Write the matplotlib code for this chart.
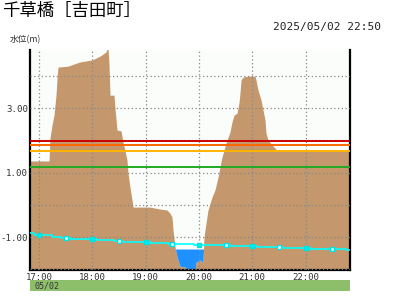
import matplotlib
matplotlib.use("Agg")
import matplotlib.pyplot as plt
import numpy as np

# x values are minutes after 16:50
prof_t = [0, 21.4, 22.5, 24.75, 27, 29.25, 30.4, 31.5, 42.75, 56.25, 69.75, 78.75, 85.5, 87.75,
          88.9, 90, 94.5, 95.6, 97.9, 102.4, 104.6, 106.9, 109.1, 110.25, 112.5, 114.75, 115.9,
          135, 146.25, 154.1, 157.5, 159.75, 160.9, 163.1, 165.4, 168.75, 174.4, 180, 185.6,
          186.75, 191.25, 194.6, 195.75, 198, 200.25, 204.75, 208.1, 211.5, 216, 220.5, 225,
          227.25, 229.5, 232.9, 235.1, 236.25, 237.4, 239.6, 245.25, 253.1, 254.25, 256.5,
          259.9, 262.1, 264.4, 265.5, 267.75, 272.25, 275.6, 277.9, 360]
prof_v = [1.36, 1.36, 2.07, 2.47, 2.78, 3.40, 3.93, 4.27, 4.30, 4.43, 4.49, 4.61, 4.74, 4.90,
          4.33, 3.40, 3.40, 3.00, 2.32, 2.29, 1.95, 1.67, 1.39, 0.98, 0.55, 0.15, -0.07,
          -0.07, -0.13, -0.16, -0.26, -0.38, -0.78, -1.31, -1.62, -1.90, -1.93, -2.05, -2.05,
          -1.78, -1.71, -1.78, -1.00, -0.57, -0.16, 0.24, 0.46, 0.86, 1.48, 1.91, 2.26,
          2.57, 2.78, 2.84, 3.16, 3.47, 3.87, 3.96, 3.99, 3.99, 3.87, 3.56,
          3.25, 2.94, 2.63, 2.22, 2.01, 1.85, 1.76, 1.67, 1.67]

water_level = -1.37

wl_t = list(range(0, 361, 10))
wl_v = [-0.88, -0.92, -0.95, -0.99, -1.02, -1.05, -1.06, -1.07, -1.09, -1.10, -1.12, -1.14,
        -1.15, -1.16, -1.17, -1.18, -1.20, -1.22, -1.22, -1.23, -1.25, -1.26, -1.26, -1.27,
        -1.29, -1.29, -1.30, -1.31, -1.32, -1.33, -1.34, -1.35, -1.36, -1.37, -1.38, -1.38, -1.39]

levels = [1.97, 1.87, 1.66, 1.16]
level_colors = ['#CC0000', '#FF6600', '#FFB400', '#22AA22']

hour_labels = ['17:00', '18:00', '19:00', '20:00', '21:00', '22:00']
hour_t = [10, 70, 130, 190, 250, 310]

jp = ['Noto Sans CJK JP', 'DejaVu Sans']
mono = 'DejaVu Sans Mono'

fig = plt.figure(figsize=(4, 3), dpi=100)
ax = fig.add_axes([0.075, 0.1, 0.8, 0.7333])
ax.set_facecolor('#FBFDFA')

ymin, ymax = -2.02, 4.8
pt = np.array(prof_t)
pv = np.array(prof_v)
ax.fill_between(pt, pv, ymin - 1, color='#C4986C', lw=0, zorder=1)
valley = (pt >= 160) & (pt <= 200)
ax.fill_between(pt[valley], pv[valley], water_level, where=pv[valley] < water_level,
                interpolate=True, color='#1E90FF', lw=0, zorder=2)

for y in range(-2, 5):
    ax.axhline(y, color='#888888', ls=(0, (1, 2)), lw=0.9, zorder=3)
for t in hour_t:
    ax.axvline(t, color='#888888', ls=(0, (1, 2)), lw=0.9, zorder=3)

for lv, c in zip(levels, level_colors):
    ax.axhline(lv, color=c, lw=1.4, zorder=4)

ax.plot(wl_t, wl_v, color='#00FFFF', lw=1.2, drawstyle='steps-mid', zorder=5)
for i, t in enumerate(wl_t):
    if (t - 10) % 60 == 0:
        ax.plot(t, wl_v[i], 's', ms=3, color='#00F0F0', mec='#00E0E0', zorder=6)
    elif (t - 40) % 60 == 0:
        ax.plot(t, wl_v[i], 's', ms=3, mfc='#D8FFFF', mec='#00E0E0', mew=0.9, zorder=6)

ax.set_xlim(0, 360)
ax.set_ylim(ymin, ymax)
ax.set_xticks(hour_t)
ax.set_xticklabels(hour_labels, fontfamily=mono, fontsize=6.5, color='#333333')
ax.set_yticks([3, 1, -1])
ax.set_yticklabels(['3.00', '1.00', '-1.00'], fontfamily=mono, fontsize=6.6, color='#333333')
ax.tick_params(axis='y', length=0, pad=1.5)
ax.tick_params(axis='x', length=0, pad=2)
ax.spines['top'].set_visible(False)
for s in ['left', 'right', 'bottom']:
    ax.spines[s].set_linewidth(1.6)
    ax.spines[s].set_color('black')

# date bar
bar = fig.add_axes([0.075, 1 - 291 / 300, 0.8, 11 / 300])
bar.set_facecolor('#8DBE6A')
bar.set_xticks([])
bar.set_yticks([])
for s in bar.spines.values():
    s.set_visible(False)
bar.text(0.015, 0.45, '05/02', fontfamily=mono, fontsize=6, color='#333333',
         va='center', ha='left', transform=bar.transAxes)

fig.text(0.005, 0.962, '千草橋［吉田町］', family=jp, fontsize=12.5, va='center', ha='left')
fig.text(0.953, 0.91, '2025/05/02 22:50', fontfamily=mono, fontsize=8, va='center', ha='right',
         color='#222222')
fig.text(0.025, 0.867, '水位(m)', family=jp, fontsize=6.3, va='center', ha='left', color='#333333')

fig.savefig('out.png', dpi=100, facecolor='white')
